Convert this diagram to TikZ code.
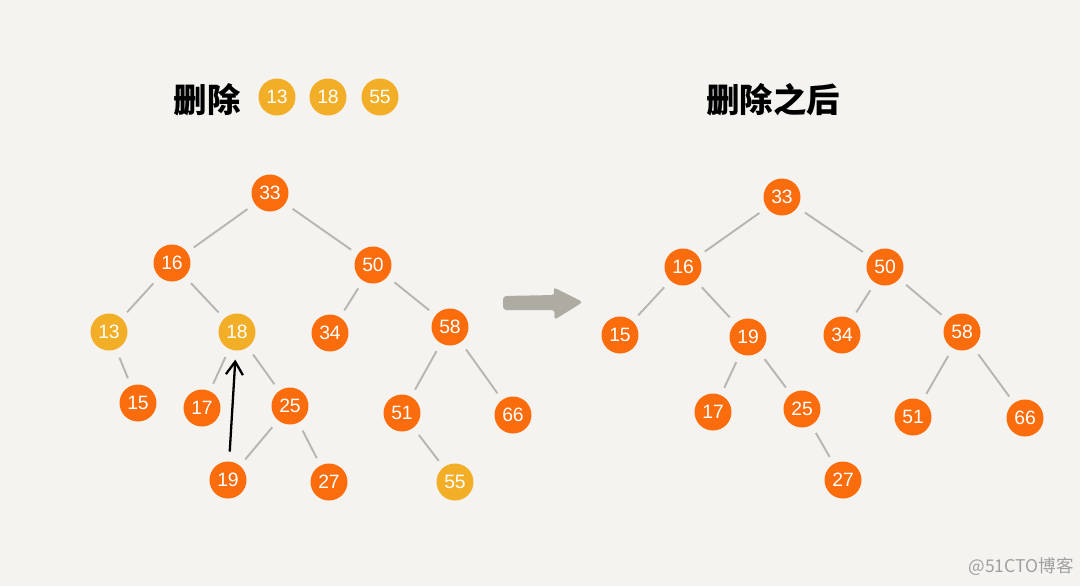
\documentclass[tikz,border=0pt]{standalone}
\usepackage{fontspec}
\usepackage{tikz}
\usetikzlibrary{arrows.meta}
\newfontfamily\cjk{Noto Sans CJK SC}
\newfontfamily\numfont{Liberation Sans}
\definecolor{paper}{HTML}{F4F3EF}
\definecolor{keyorange}{HTML}{FA6C0C}
\definecolor{keyyellow}{HTML}{F2AE26}
\definecolor{edgegray}{HTML}{B8B6AF}
\definecolor{bigarrow}{HTML}{AEABA3}
\definecolor{markgray}{HTML}{A0A0A0}

\begin{document}
\begin{tikzpicture}[x=0.02cm,y=-0.02cm,
  key/.style={circle,fill=keyorange,text=white,minimum size=0.74cm,inner sep=0pt,
    font=\numfont\fontsize{11}{11}\selectfont},
  gone/.style={key,fill=keyyellow},
  edge/.style={draw=edgegray,line width=1.1pt,shorten <=5pt,shorten >=4.5pt},
  title/.style={font=\cjk\bfseries\fontsize{19}{19}\selectfont}]
\fill[paper] (0,0) rectangle (1080,586);
% titles
\node[title] (delete) at (207,100) {删除};
\node[gone] (t13) at (277,97) {13};
\node[gone] (t18) at (328,97) {18};
\node[gone] (t55) at (380,97) {55};
\node[title] (after) at (773,100) {删除之后};
% left tree
\node[key] (l33) at (270,193) {33};
\node[key] (l16) at (172,263) {16};
\node[key] (l50) at (373,265) {50};
\node[gone] (l13) at (109,332) {13};
\node[gone] (l18) at (237,332) {18};
\node[key] (l34) at (330,333) {34};
\node[key] (l58) at (450,327) {58};
\node[key] (l15) at (138,403) {15};
\node[key] (l17) at (202,408) {17};
\node[key] (l25) at (290,406) {25};
\node[key] (l51) at (402,413) {51};
\node[key] (l66) at (513,415) {66};
\node[key] (l19) at (228,480) {19};
\node[key] (l27) at (329,482) {27};
\node[gone] (l55) at (455,482) {55};
\foreach \a/\b in {l33/l16,l33/l50,l16/l13,l16/l18,l50/l34,l50/l58,l13/l15,
  l18/l17,l18/l25,l25/l19,l25/l27,l58/l51,l58/l66,l51/l55}
  \draw[edge] (\a) -- (\b);
\draw[line width=1.3pt,-{Straight Barb[length=2.6mm,width=3.4mm]},shorten <=5.5pt,shorten >=5pt]
  (l19) -- (l18);
% big arrow
\fill[bigarrow,rounded corners=2pt] (503,296) -- (555,295) -- (553,287) -- (583,302)
  -- (554,320) -- (555,310) -- (503,310) -- cycle;
% right tree
\node[key] (r33) at (782,197) {33};
\node[key] (r16) at (683,267) {16};
\node[key] (r50) at (885,267) {50};
\node[key] (r15) at (620,335) {15};
\node[key] (r19) at (748,337) {19};
\node[key] (r34) at (842,335) {34};
\node[key] (r58) at (962,332) {58};
\node[key] (r17) at (713,412) {17};
\node[key] (r25) at (802,409) {25};
\node[key] (r51) at (913,417) {51};
\node[key] (r66) at (1025,418) {66};
\node[key] (r27) at (843,480) {27};
\foreach \a/\b in {r33/r16,r33/r50,r16/r15,r16/r19,r50/r34,r50/r58,
  r19/r17,r19/r25,r25/r27,r58/r51,r58/r66}
  \draw[edge] (\a) -- (\b);
\node[text=markgray,font=\cjk\fontsize{10}{10}\selectfont] (mark) at (1021,567) {@51CTO博客};
\end{tikzpicture}
\end{document}
